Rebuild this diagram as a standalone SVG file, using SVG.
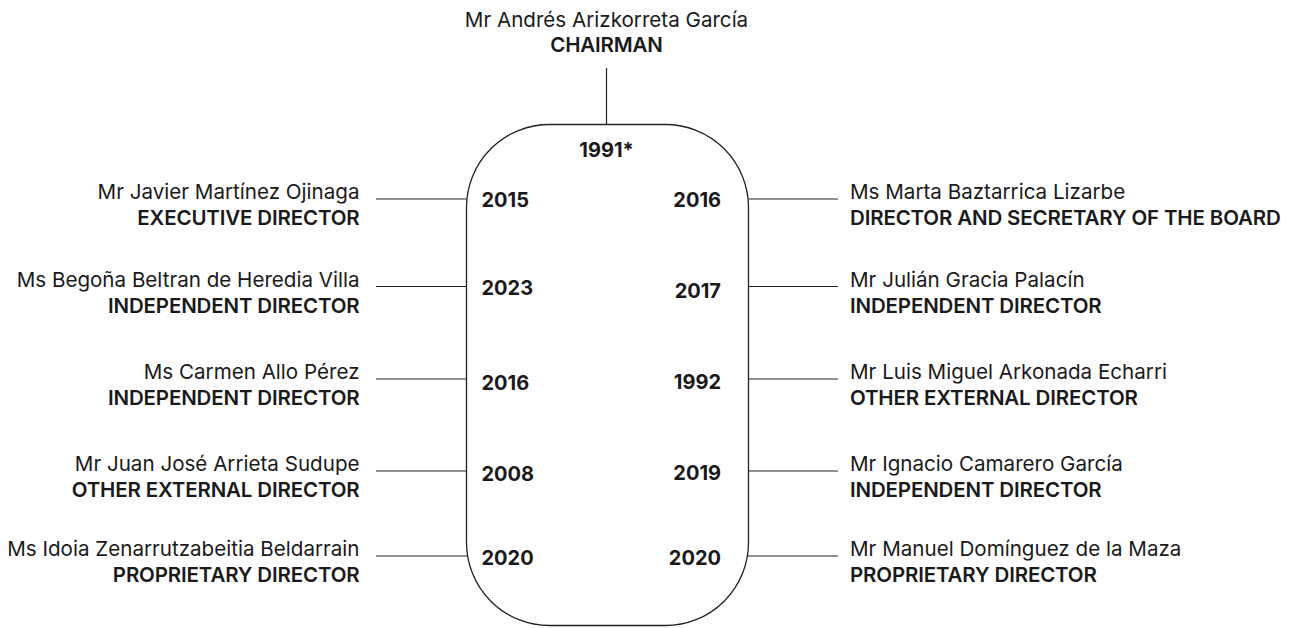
<svg xmlns="http://www.w3.org/2000/svg" width="1291" height="628" viewBox="0 0 1291 628">
  <style>
    text { font-family: Inter, "Liberation Sans", sans-serif; fill: #1a1a1a; }
    .name { font-size: 20.6px; font-weight: 400; }
    .role { font-size: 20.5px; font-weight: 600; letter-spacing: -0.15px; }
    .year { font-size: 20px; font-weight: 700; }
    .l { text-anchor: end; }
    .r { text-anchor: start; }
    .c { text-anchor: middle; }
    .conn { stroke: #222; stroke-width: 1.2; fill: none; }
    .board { stroke: #222; stroke-width: 1.3; fill: #fff; }
  </style>
  <rect width="1291" height="628" fill="#fff"/>

  <g id="connectors">
    <line class="conn" x1="606.5" y1="68" x2="606.5" y2="124.5"/>
    <line class="conn" x1="376" y1="199" x2="466.5" y2="199"/>
    <line class="conn" x1="376" y1="286.5" x2="466.5" y2="286.5"/>
    <line class="conn" x1="376" y1="379" x2="466.5" y2="379"/>
    <line class="conn" x1="376" y1="471" x2="466.5" y2="471"/>
    <line class="conn" x1="376" y1="556" x2="467.5" y2="556"/>
    <line class="conn" x1="748.5" y1="199" x2="838" y2="199"/>
    <line class="conn" x1="748.5" y1="286.5" x2="838" y2="286.5"/>
    <line class="conn" x1="748.5" y1="379" x2="838" y2="379"/>
    <line class="conn" x1="748.5" y1="471" x2="838" y2="471"/>
    <line class="conn" x1="747.5" y1="556" x2="838" y2="556"/>
  </g>

  <g id="board">
    <rect class="board" x="466.5" y="124.5" width="282" height="501" rx="83" ry="83"/>
    <text class="year c" x="606.5" y="157.3">1991*</text>
    <text class="year r" x="481.5" y="207.3">2015</text>
    <text class="year r" x="481.5" y="295">2023</text>
    <text class="year r" x="481.5" y="390">2016</text>
    <text class="year r" x="481.5" y="481">2008</text>
    <text class="year r" x="481.5" y="565">2020</text>
    <text class="year l" x="721" y="207.3">2016</text>
    <text class="year l" x="721" y="298">2017</text>
    <text class="year l" x="721" y="389">1992</text>
    <text class="year l" x="721" y="480">2019</text>
    <text class="year l" x="721" y="565">2020</text>
  </g>

  <g id="chairman">
    <text class="name c" x="606.5" y="26.7">Mr Andrés Arizkorreta García</text>
    <text class="role c" x="606.5" y="52.3">CHAIRMAN</text>
  </g>

  <g id="director-l1">
    <text class="name l" x="359.5" y="198.5">Mr Javier Martínez Ojinaga</text>
    <text class="role l" x="359.5" y="225">EXECUTIVE DIRECTOR</text>
  </g>
  <g id="director-l2">
    <text class="name l" x="359.5" y="286.5">Ms Begoña Beltran de Heredia Villa</text>
    <text class="role l" x="359.5" y="312.5">INDEPENDENT DIRECTOR</text>
  </g>
  <g id="director-l3">
    <text class="name l" x="359.5" y="379">Ms Carmen Allo Pérez</text>
    <text class="role l" x="359.5" y="405">INDEPENDENT DIRECTOR</text>
  </g>
  <g id="director-l4">
    <text class="name l" x="359.5" y="471">Mr Juan José Arrieta Sudupe</text>
    <text class="role l" x="359.5" y="497">OTHER EXTERNAL DIRECTOR</text>
  </g>
  <g id="director-l5">
    <text class="name l" x="359.5" y="556">Ms Idoia Zenarrutzabeitia Beldarrain</text>
    <text class="role l" x="359.5" y="582">PROPRIETARY DIRECTOR</text>
  </g>

  <g id="director-r1">
    <text class="name r" x="850" y="198.5">Ms Marta Baztarrica Lizarbe</text>
    <text class="role r" x="850" y="225">DIRECTOR AND SECRETARY OF THE BOARD</text>
  </g>
  <g id="director-r2">
    <text class="name r" x="850" y="286.5">Mr Julián Gracia Palacín</text>
    <text class="role r" x="850" y="312.5">INDEPENDENT DIRECTOR</text>
  </g>
  <g id="director-r3">
    <text class="name r" x="850" y="379">Mr Luis Miguel Arkonada Echarri</text>
    <text class="role r" x="850" y="405">OTHER EXTERNAL DIRECTOR</text>
  </g>
  <g id="director-r4">
    <text class="name r" x="850" y="471">Mr Ignacio Camarero García</text>
    <text class="role r" x="850" y="497">INDEPENDENT DIRECTOR</text>
  </g>
  <g id="director-r5">
    <text class="name r" x="850" y="556">Mr Manuel Domínguez de la Maza</text>
    <text class="role r" x="850" y="582">PROPRIETARY DIRECTOR</text>
  </g>
</svg>
